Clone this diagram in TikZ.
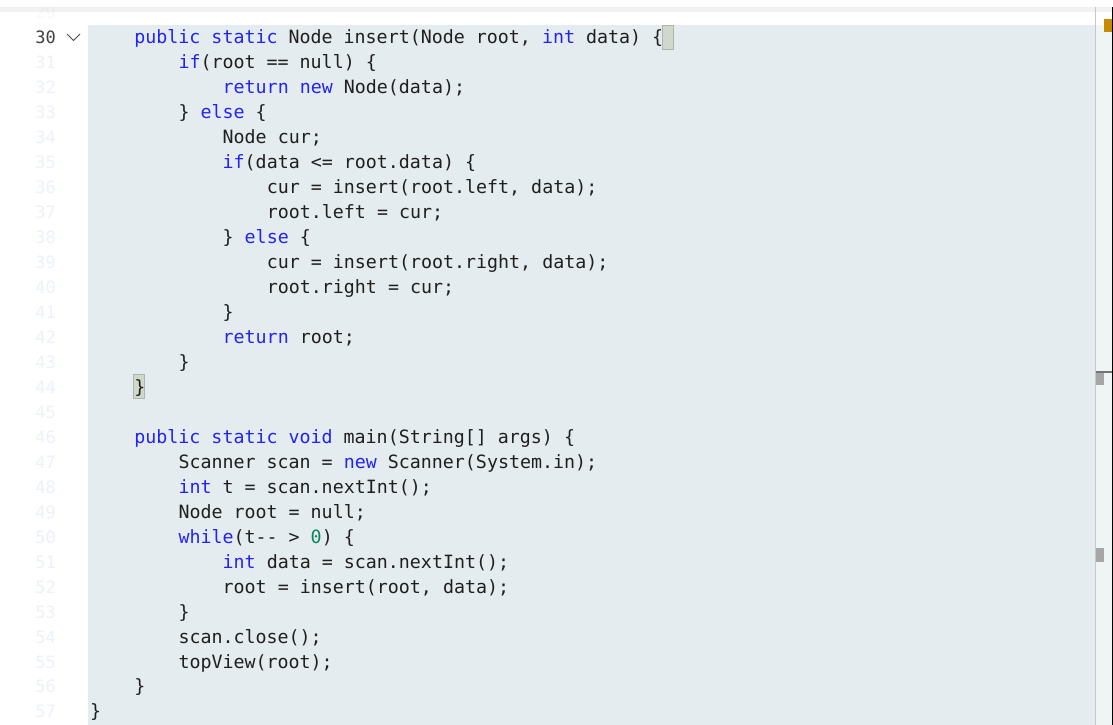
\documentclass[tikz,border=0pt]{standalone}
\usepackage{fontspec}
\setmonofont{DejaVu Sans Mono}[Scale=1.0]
\definecolor{bg}{HTML}{E5ECEF}
\definecolor{kw}{HTML}{2323F5}
\definecolor{txt}{HTML}{1F1F1F}
\definecolor{num}{HTML}{098658}
\definecolor{ln}{HTML}{EDF1F8}
\definecolor{brk}{HTML}{D0D8CC}
\definecolor{orng}{HTML}{C88A00}
\newcommand{\kw}[1]{\textcolor{kw}{#1}}
\newcommand{\nm}[1]{\textcolor{num}{#1}}
\tikzset{code/.style={anchor=base west,inner sep=0pt,text=txt,font=\ttfamily\fontsize{18.3}{20}\selectfont},
lnum/.style={anchor=base east,inner sep=0pt,text=ln,font=\ttfamily\fontsize{17}{20}\selectfont}}
\newcommand{\cl}[3]{\node[code] (c#1) at ({90pt+#2*11.04pt},{-(38pt+(#1-30)*24.96pt+6pt)}) {#3};
\node[lnum] (n#1) at (56pt,{-(38pt+(#1-30)*24.96pt+6pt)}) {#1};}
\begin{document}
\begin{tikzpicture}[x=1pt,y=1pt]
\useasboundingbox (0,0) rectangle (1113,-725);
\fill[white] (0,0) rectangle (1113,-725);
\fill[bg] (88,-25) rectangle (1095,-725);
\fill[bg!60!white] (1095,-25) rectangle (1112,-725);
% brace match boxes
\filldraw[fill=brk,draw=gray!60] (662,-25.5) rectangle (673.5,-49.5);
\filldraw[fill=brk,draw=gray!60] (133,-374.5) rectangle (144.5,-398.5);
\node[lnum] (n29) at (56,-19) {29};
\cl{30}{4}{\kw{public} \kw{static} Node insert(Node root, \kw{int} data) \{}
\cl{31}{8}{\kw{if}(root == null) \{}
\cl{32}{12}{\kw{return} \kw{new} Node(data);}
\cl{33}{8}{\} \kw{else} \{}
\cl{34}{12}{Node cur;}
\cl{35}{12}{\kw{if}(data <= root.data) \{}
\cl{36}{16}{cur = insert(root.left, data);}
\cl{37}{16}{root.left = cur;}
\cl{38}{12}{\} \kw{else} \{}
\cl{39}{16}{cur = insert(root.right, data);}
\cl{40}{16}{root.right = cur;}
\cl{41}{12}{\}}
\cl{42}{12}{\kw{return} root;}
\cl{43}{8}{\}}
\cl{44}{4}{\}}
\node[lnum] (n45) at (56,{-(38+15*24.96+6)}) {45};
\cl{46}{4}{\kw{public} \kw{static} \kw{void} main(String[] args) \{}
\cl{47}{8}{Scanner scan = \kw{new} Scanner(System.in);}
\cl{48}{8}{\kw{int} t = scan.nextInt();}
\cl{49}{8}{Node root = null;}
\cl{50}{8}{\kw{while}(t-{}- > \nm{0}) \{}
\cl{51}{12}{\kw{int} data = scan.nextInt();}
\cl{52}{12}{root = insert(root, data);}
\cl{53}{8}{\}}
\cl{54}{8}{scan.close();}
\cl{55}{8}{topView(root);}
\cl{56}{4}{\}}
\cl{57}{0}{\}}
\node[lnum,text=txt!85] at (56,-44) {30};
% fold chevron
\draw[txt!80,line width=1pt] (67,-34) -- (73.5,-40.5) -- (80,-34);
% top bar with shadow
\shade[top color=gray!18,bottom color=gray!18!white,opacity=0.6] (0,-7) rectangle (1113,-12);
\fill[white,opacity=0.5] (0,-12) rectangle (1113,-25);
\fill[white] (0,-0) rectangle (1113,-7);
% right ruler
\draw[gray!45,line width=1pt] (1095.5,-7) -- (1095.5,-725);
\draw[black,line width=1.5pt] (1112.3,-7) -- (1112.3,-725);
\fill[fill=orng] (1104,-19) rectangle (1111.5,-32);
\draw[gray!90!black,line width=1.5pt] (1096,-372) -- (1111.5,-372);
\fill[gray!70] (1096,-373) rectangle (1104,-385);
\fill[gray!70] (1096,-548) rectangle (1104,-562);
\end{tikzpicture}
\end{document}
